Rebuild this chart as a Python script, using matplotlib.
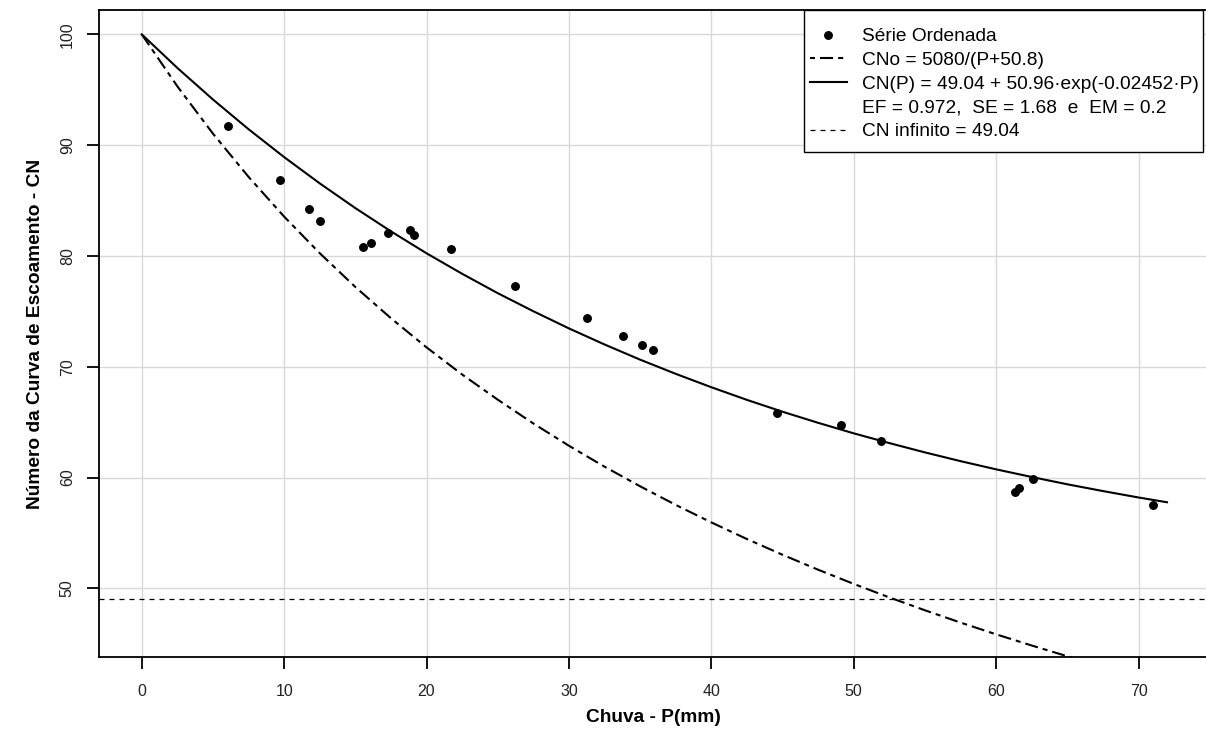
import matplotlib
matplotlib.use("Agg")
import matplotlib.pyplot as plt
from matplotlib.lines import Line2D
from matplotlib.patches import Rectangle

plt.rcParams['font.family'] = ['Liberation Sans', 'DejaVu Sans']

# observed series (ordered)
p_obs = [6.08, 9.71, 11.77, 12.52, 15.56, 16.08, 17.27, 18.84, 19.12, 21.75, 26.22,
         31.29, 33.78, 35.16, 35.93, 44.64, 49.11, 51.92, 61.33, 61.63, 62.57, 71.0]
cn_obs = [91.72, 86.85, 84.20, 83.18, 80.83, 81.19, 82.04, 82.34, 81.89, 80.62, 77.28,
          74.42, 72.77, 71.99, 71.51, 65.79, 64.77, 63.32, 58.72, 59.08, 59.86, 57.55]

# fitted curve CN(P)
p_fit = [0, 2.5, 5, 7.5, 10, 12.5, 15, 17.5, 20, 22.5, 25, 27.5, 30, 32.5, 35, 37.5,
         40, 42.5, 45, 47.5, 50, 52.5, 55, 57.5, 60, 62.5, 65, 67.5, 70, 72]
cn_fit = [100.0, 96.97, 94.12, 91.44, 88.92, 86.55, 84.32, 82.22, 80.24, 78.39, 76.64,
          75.01, 73.46, 72.01, 70.64, 69.36, 68.15, 67.01, 65.94, 64.94, 63.99, 63.11,
          62.27, 61.48, 60.74, 60.05, 59.39, 58.78, 58.20, 57.77]

# CNo curve
p_cno = [0, 2.5, 5, 7.5, 10, 12.5, 15, 17.5, 20, 22.5, 25, 27.5, 30, 32.5, 35, 37.5,
         40, 42.5, 45, 47.5, 50, 52.5, 55, 57.5, 60, 62.5, 65, 66]
cn_cno = [100.0, 95.31, 91.04, 87.14, 83.55, 80.25, 77.20, 74.38, 71.75, 69.30, 67.03,
          64.88, 62.87, 60.98, 59.21, 57.53, 55.95, 54.45, 53.03, 51.68, 50.40, 49.18,
          48.02, 46.91, 45.85, 44.84, 43.87, 43.49]

cn_inf = 49.04

x_ticks = [0, 10, 20, 30, 40, 50, 60, 70]
y_ticks = [50, 60, 70, 80, 90, 100]

labels = ['Série Ordenada',
          'CNo = 5080/(P+50.8)',
          'CN(P) = 49.04 + 50.96·exp(-0.02452·P)',
          'EF = 0.972,  SE = 1.68  e  EM = 0.2',
          'CN infinito = 49.04']

W, H = 1206, 753
fig = plt.figure(figsize=(W / 100, H / 100), dpi=100)
ax = fig.add_axes([99.3 / W, 1 - 656.7 / H, (1208 - 99.3) / W, (656.7 - 10.3) / H])

dashdot = (0, (6.3, 2.4, 2.4, 2.4))
ax.plot(p_cno, cn_cno, color='black', lw=1.5, linestyle=dashdot)
ax.plot(p_fit, cn_fit, color='black', lw=1.5)
ax.axhline(cn_inf, color='black', lw=0.9, linestyle=(0, (4, 4)))
ax.plot(p_obs, cn_obs, 'o', color='black', markersize=5.4)

ax.set_xlim(-2.98, 74.88)
ax.set_ylim(43.83, 102.17)
ax.set_xticks(x_ticks)
ax.set_yticks(y_ticks)
ax.grid(True, color='#d9d9d9', lw=1.0)
ax.set_axisbelow(True)
for s in ax.spines.values():
    s.set_linewidth(1.3)
ax.tick_params(direction='out', length=8.6, width=1.3, labelsize=11.5,
               labelcolor='#222222')
ax.tick_params(axis='x', pad=11)
ax.tick_params(axis='y', pad=9)
plt.setp(ax.get_yticklabels(), rotation=90, va='center')

fig.text(653 / W, 1 - 718 / H, 'Chuva - P(mm)', ha='center', va='center',
         fontsize=13.8, fontweight='bold')
fig.text(36 / W, 1 - 333.5 / H, 'Número da Curva de Escoamento - CN', ha='center',
         va='center', rotation=90, fontsize=13.8, fontweight='bold')

# legend box, drawn in figure pixels
ax.add_patch(Rectangle((804 / W, 1 - 152 / H), (1203 - 804) / W, (152 - 10.3) / H,
                       transform=fig.transFigure, facecolor='white',
                       edgecolor='black', lw=1.0, zorder=4, clip_on=False))

handles = [Line2D([], [], marker='o', color='black', linestyle='none', markersize=5.4),
           Line2D([], [], color='black', lw=1.5, linestyle=(8.7, (6.3, 2.4, 2.4, 2.4))),
           Line2D([], [], color='black', lw=1.5),
           Line2D([], [], color='none'),
           Line2D([], [], color='black', lw=0.9, linestyle=(0, (4, 4)))]
leg = ax.legend(handles, labels, loc='upper left', bbox_to_anchor=(810 / W, 1 - 28 / H),
                bbox_transform=fig.transFigure, fontsize=13.8, frameon=False,
                borderpad=0, labelspacing=0.33, handlelength=1.93, handletextpad=0.78,
                borderaxespad=0)
leg.set_zorder(5)

fig.savefig('out.png', dpi=100)
